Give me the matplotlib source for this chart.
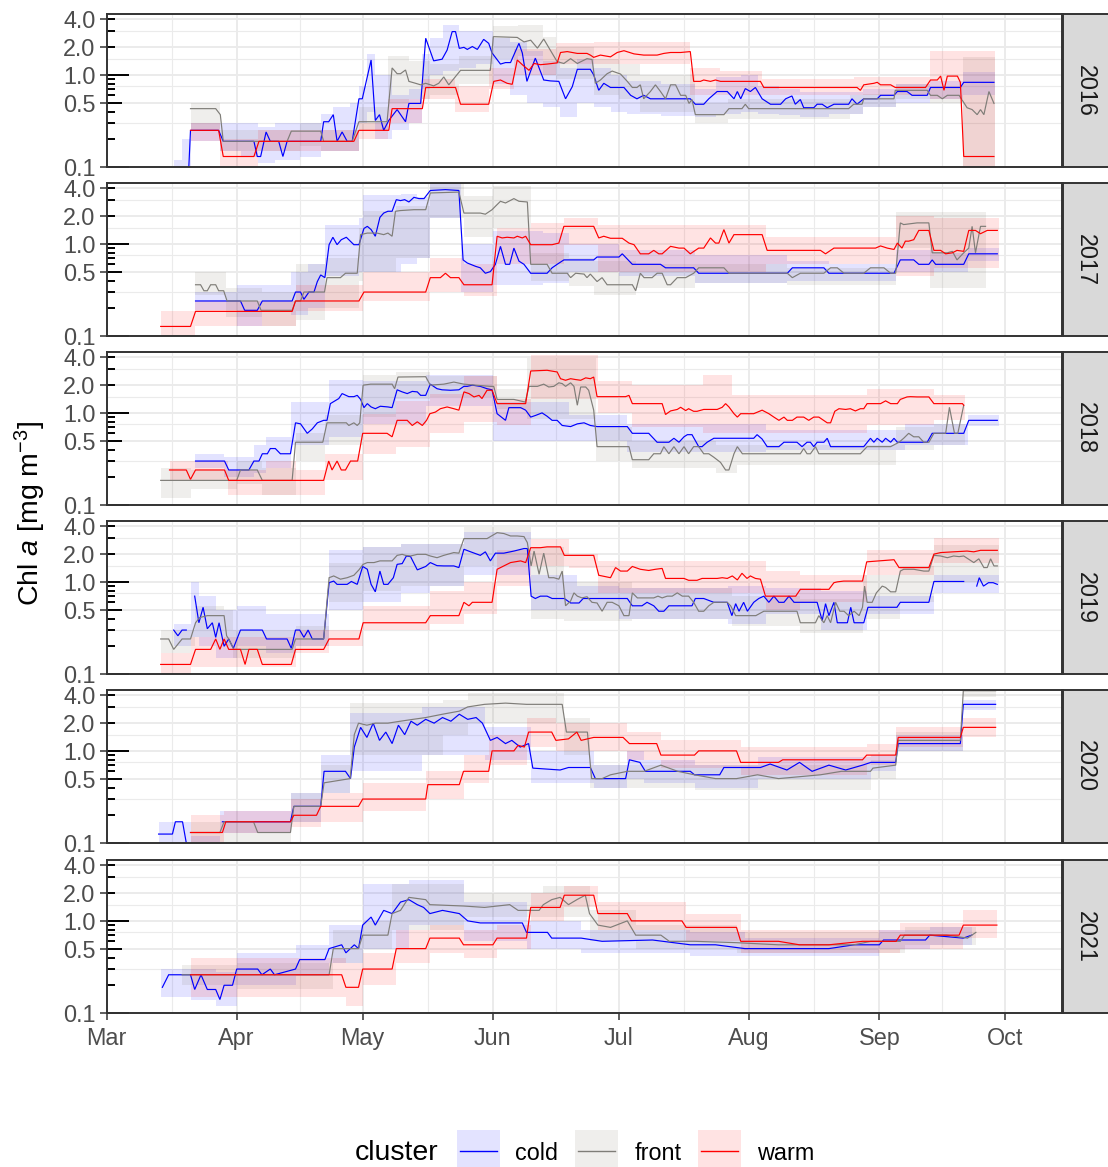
import matplotlib
matplotlib.use("Agg")
import matplotlib.pyplot as plt
from matplotlib.patches import Rectangle
from matplotlib.lines import Line2D

nan = float("nan")

# ---------------- categories / ticks ----------------
years = [2016, 2017, 2018, 2019, 2020, 2021]
clusters = ["cold", "front", "warm"]
month_labels = ["Mar", "Apr", "May", "Jun", "Jul", "Aug", "Sep", "Oct"]
month_days = [0, 31, 61, 92, 122, 153, 184, 214]          # days since 1 March
y_tick_values = [0.1, 0.5, 1.0, 2.0, 4.0]
y_tick_labels = ["0.1", "0.5", "1.0", "2.0", "4.0"]
y_minor_values = [0.3, 0.75, 1.5, 3.0]

# ---------------- data: (day since 1 Mar, Chl a) ----------------
cold_2016 = [(19.6,0.10),(20.0,0.25),(26.7,0.25),(27.8,0.19),(35.1,0.19),(35.9,0.13),(36.7,0.13),(38.0,0.24),(39.0,0.19),(41.0,0.19),(42.0,0.13),(43.0,0.19),(51.0,0.19),(51.7,0.31),(52.9,0.31),(54.0,0.37),(54.9,0.19),(56.1,0.24),(57.3,0.19),(58.5,0.19),(60.1,0.55),(60.9,0.55),(63.0,1.45),(64.0,0.32),(65.0,0.37),(66.0,0.25),(67.2,0.32),(69.2,0.42),(71.2,0.31),(72.0,0.49),(74.8,0.49),(76.0,2.5),(77.9,1.42),(79.9,1.48),(81.1,1.86),(82.3,2.95),(83.1,2.95),(84.0,1.94),(85.1,1.99),(85.9,1.89),(87.1,2.03),(88.3,1.89),(89.8,2.43),(91.0,2.2),(91.8,1.73),(93.8,1.31),(95.0,1.36),(96.2,1.36),(98.2,2.2),(99.0,1.73),(100.1,0.85),(102.1,1.52),(104.1,0.88),(105.7,0.86),(107.7,0.85),(109.3,0.55),(110.9,0.745),(112.1,1.15),(115.2,1.15),(116.0,1.0),(117.2,0.68),(118.4,0.81),(120.0,0.73),(123.2,0.73),(124.8,0.60),(126.3,0.55),(127.9,0.60),(129.5,0.55),(139.0,0.55),(140.2,0.48),(142.2,0.48),(143.4,0.55),(145.4,0.66),(147.8,0.66),(149.4,0.55),(150.2,0.66),(151.0,0.55),(152.1,0.71),(153.3,0.66),(154.5,0.73),(156.1,0.55),(158.1,0.48),(160.5,0.48),(161.7,0.55),(163.2,0.59),(164.0,0.48),(165.2,0.54),(166.0,0.44),(168.4,0.44),(169.2,0.48),(170.4,0.48),(171.6,0.44),(173.2,0.48),(176.7,0.48),(177.5,0.55),(178.7,0.48),(180.3,0.55),(183.5,0.55),(184.3,0.60),(187.5,0.60),(188.3,0.66),(190.6,0.66),(191.8,0.60),(195.4,0.60),(196.2,0.73),(203.3,0.73),(204.1,0.83),(211.3,0.83)]
front_2016 = [(20.0,0.43),(26.0,0.43),(27.1,0.37),(27.8,0.19),(43.0,0.19),(44.0,0.245),(51.0,0.245),(51.7,0.19),(58.5,0.19),(60.1,0.31),(66.8,0.31),(68.0,1.19),(69.2,1.03),(70.0,1.03),(71.2,1.13),(72.0,0.85),(73.6,0.81),(74.8,0.78),(76.0,0.81),(77.9,0.76),(79.1,0.81),(80.3,0.95),(81.5,0.78),(84.3,1.12),(91.4,1.12),(92.1,2.6),(97.8,2.55),(99.4,2.28),(101.0,2.38),(102.6,1.95),(104.1,2.45),(107.3,1.39),(108.9,1.33),(110.5,1.5),(112.1,1.33),(114.4,1.5),(115.6,1.47),(116.4,0.81),(117.6,0.88),(119.2,1.03),(120.4,1.1),(122.4,1.02),(124.0,0.85),(125.2,0.73),(126.3,0.73),(127.1,0.78),(127.9,0.55),(129.5,0.66),(130.7,0.78),(131.9,0.66),(133.1,0.55),(134.3,0.78),(135.5,0.78),(136.7,0.60),(137.9,0.60),(138.7,0.49),(139.4,0.54),(140.2,0.37),(147.0,0.37),(148.2,0.43),(151.3,0.43),(152.1,0.48),(152.9,0.43),(176.7,0.43),(177.9,0.48),(179.9,0.48),(180.3,0.55),(187.5,0.55),(187.8,0.68),(195.4,0.68),(196.2,0.60),(197.8,0.60),(199.0,0.55),(200.2,0.60),(203.0,0.60),(204.9,0.44),(206.1,0.42),(207.3,0.37),(208.1,0.42),(208.9,0.37),(210.1,0.66),(211.3,0.49)]
warm_2016 = [(20.0,0.25),(26.7,0.25),(27.8,0.13),(35.1,0.13),(36.3,0.19),(58.9,0.19),(60.1,0.25),(67.2,0.25),(68.0,0.43),(75.2,0.43),(76.0,0.73),(83.1,0.73),(84.3,0.48),(91.0,0.48),(92.2,0.85),(93.8,0.88),(95.4,0.81),(96.6,0.79),(97.8,1.45),(99.0,1.29),(100.6,1.12),(101.8,1.33),(103.3,1.29),(104.9,1.31),(107.3,1.35),(108.1,1.75),(109.7,1.79),(112.1,1.71),(114.4,1.71),(115.2,1.64),(116.0,1.55),(117.6,1.64),(120.0,1.57),(121.6,1.75),(123.2,1.83),(125.6,1.69),(127.9,1.64),(131.1,1.64),(132.7,1.71),(134.3,1.75),(136.7,1.75),(139.0,1.79),(139.8,0.85),(141.4,0.85),(142.2,0.88),(143.8,0.85),(145.0,0.88),(146.2,0.85),(155.7,0.85),(156.5,0.73),(178.7,0.73),(179.5,0.68),(180.3,0.78),(182.7,0.81),(183.5,0.83),(184.3,0.78),(186.7,0.78),(187.8,0.73),(195.0,0.73),(196.2,0.88),(197.8,0.88),(198.6,0.97),(199.4,0.68),(200.2,0.97),(202.6,0.97),(203.3,0.83),(204.1,0.13),(211.3,0.13)]

cold_2017 = [(21.2,0.24),(31.9,0.24),(32.9,0.19),(35.9,0.19),(37.1,0.24),(44.2,0.24),(45.0,0.30),(46.2,0.30),(47.0,0.25),(48.2,0.30),(49.4,0.30),(50.2,0.39),(51.0,0.46),(52.0,0.43),(53.0,0.98),(53.9,1.18),(54.9,0.98),(55.9,1.11),(57.1,1.18),(58.9,0.98),(60.1,0.98),(61.3,1.47),(62.1,1.55),(63.0,1.43),(64.0,1.21),(65.1,1.94),(66.0,2.16),(67.0,2.26),(68.0,2.26),(69.0,3.02),(70.0,2.95),(71.0,3.02),(72.0,2.85),(73.2,3.2),(74.4,3.1),(75.6,3.1),(77.1,3.8),(80.7,3.88),(83.9,3.8),(84.9,0.67),(85.9,0.62),(87.9,0.57),(89.0,0.55),(90.2,0.48),(91.4,0.50),(92.6,0.60),(93.8,0.94),(95.0,0.60),(96.0,0.60),(97.0,0.90),(98.2,0.65),(99.4,0.60),(101.0,0.48),(104.9,0.48),(106.1,0.55),(107.3,0.60),(108.9,0.67),(116.0,0.67),(116.8,0.72),(122.0,0.72),(122.8,0.78),(125.2,0.60),(131.9,0.60),(133.1,0.55),(139.8,0.55),(141.0,0.48),(162.1,0.48),(163.3,0.55),(170.8,0.55),(172.0,0.48),(187.5,0.48),(189.0,0.67),(192.2,0.67),(193.4,0.60),(195.8,0.60),(196.6,0.67),(197.4,0.60),(204.1,0.60),(205.3,0.78),(212.1,0.78)]
front_2017 = [(21.2,0.36),(22.4,0.36),(23.2,0.31),(24.0,0.31),(24.8,0.36),(26.0,0.36),(26.7,0.31),(27.9,0.31),(28.7,0.24),(35.9,0.24),(36.8,0.19),(44.2,0.19),(45.0,0.24),(46.2,0.24),(47.0,0.30),(51.9,0.30),(52.5,0.43),(55.7,0.43),(56.9,0.48),(59.7,0.48),(60.5,1.26),(62.1,1.31),(64.4,1.31),(66.0,1.26),(67.0,1.31),(68.0,1.21),(68.8,2.26),(70.0,2.3),(73.2,2.35),(76.0,2.35),(77.1,3.57),(83.9,3.65),(85.1,2.16),(89.0,2.16),(90.2,2.1),(91.8,2.35),(92.6,2.56),(93.8,2.9),(95.0,2.78),(97.0,3.1),(98.2,2.9),(100.2,2.85),(101.0,0.60),(104.9,0.60),(106.1,0.48),(109.7,0.48),(110.5,0.43),(111.7,0.48),(113.7,0.47),(114.4,0.43),(115.2,0.47),(116.8,0.39),(118.0,0.43),(119.2,0.36),(125.2,0.36),(126.0,0.31),(127.1,0.48),(128.0,0.43),(129.9,0.43),(131.1,0.48),(132.3,0.48),(133.5,0.36),(134.3,0.36),(135.9,0.43),(137.9,0.43),(139.8,0.48),(141.0,0.55),(147.0,0.55),(148.2,0.48),(162.1,0.48),(163.3,0.43),(165.2,0.48),(170.8,0.48),(172.4,0.55),(174.0,0.55),(175.6,0.48),(180.3,0.48),(181.9,0.55),(185.1,0.55),(186.7,0.48),(187.9,0.48),(189.0,1.69),(189.8,1.62),(193.0,1.69),(195.8,1.69),(196.6,0.80),(200.2,0.80),(201.4,0.83),(202.5,0.67),(204.1,0.80),(205.3,0.90),(206.1,1.55),(206.9,0.80),(208.1,1.55),(209.3,1.55)]
warm_2017 = [(12.9,0.127),(20.0,0.127),(21.2,0.185),(44.2,0.185),(45.0,0.24),(60.1,0.24),(61.3,0.30),(76.0,0.30),(77.1,0.43),(79.5,0.43),(80.7,0.48),(81.9,0.43),(83.9,0.43),(85.1,0.36),(91.8,0.36),(93.0,1.21),(94.2,1.16),(95.4,1.18),(97.0,1.16),(97.8,1.21),(99.0,1.16),(99.8,1.21),(101.0,0.98),(106.1,0.98),(107.7,1.02),(108.9,1.55),(116.0,1.55),(117.2,1.16),(118.4,1.21),(120.0,1.15),(122.8,1.15),(124.4,1.02),(125.6,0.98),(127.1,0.78),(129.1,0.78),(130.3,0.85),(131.5,0.78),(132.3,0.78),(134.3,0.94),(136.3,0.90),(137.5,0.90),(139.0,0.78),(141.0,0.90),(142.2,0.90),(143.8,1.16),(145.0,1.02),(145.8,1.02),(147.0,1.43),(148.2,1.02),(149.4,1.26),(151.0,1.26),(156.1,1.26),(157.3,0.85),(170.0,0.85),(171.2,0.78),(173.2,0.90),(183.1,0.90),(184.3,0.95),(185.9,0.90),(187.5,0.87),(188.3,1.02),(189.4,0.90),(190.2,1.07),(191.0,1.07),(192.2,1.11),(193.4,1.40),(195.8,1.40),(197.0,0.85),(198.6,0.85),(199.8,0.78),(201.4,0.80),(202.5,0.85),(204.1,0.83),(205.3,1.40),(206.9,1.40),(208.1,1.29),(209.7,1.40),(212.1,1.40)]

cold_2018 = [(21.2,0.30),(28.1,0.30),(29.1,0.24),(33.9,0.24),(35.1,0.30),(36.3,0.30),(37.1,0.36),(38.3,0.36),(39.0,0.41),(40.2,0.41),(41.4,0.36),(43.8,0.36),(45.0,0.78),(46.2,0.76),(47.8,0.60),(49.0,0.67),(50.2,0.78),(51.7,0.83),(52.5,0.83),(53.3,1.26),(55.3,1.43),(56.1,1.62),(57.7,1.5),(58.9,1.5),(59.7,1.55),(60.5,1.40),(61.3,1.14),(62.1,1.26),(63.0,1.16),(64.0,1.11),(65.2,1.18),(67.0,1.16),(68.0,1.14),(69.2,1.78),(70.4,1.69),(71.6,1.62),(72.8,1.71),(74.0,1.69),(74.8,1.55),(76.0,1.55),(77.1,2.05),(78.7,1.83),(79.9,1.78),(81.9,1.76),(83.9,1.78),(85.1,1.94),(85.9,1.94),(87.1,2.0),(89.0,1.94),(90.6,1.83),(91.8,1.78),(93.0,0.98),(95.0,0.83),(95.8,1.14),(98.6,1.14),(99.8,1.07),(101.0,0.90),(102.2,0.94),(103.7,1.0),(104.9,0.92),(106.1,0.83),(107.3,0.83),(108.5,0.73),(110.5,0.71),(112.1,0.76),(113.7,0.78),(115.2,0.73),(116.8,0.71),(124.0,0.71),(125.2,0.60),(129.1,0.60),(131.1,0.48),(133.9,0.48),(135.1,0.53),(136.3,0.48),(137.5,0.55),(138.3,0.58),(139.4,0.58),(140.2,0.50),(141.0,0.43),(141.8,0.43),(143.0,0.48),(144.6,0.53),(154.1,0.53),(154.9,0.58),(156.1,0.52),(157.3,0.43),(160.1,0.43),(161.3,0.48),(164.4,0.48),(165.6,0.43),(166.8,0.48),(167.6,0.48),(168.4,0.43),(169.2,0.48),(170.8,0.48),(171.6,0.53),(172.4,0.43),(180.3,0.43),(181.9,0.53),(182.7,0.48),(183.5,0.53),(184.7,0.48),(185.5,0.53),(186.7,0.48),(187.5,0.53),(188.3,0.48),(195.4,0.48),(196.6,0.60),(204.1,0.60),(205.3,0.83),(212.1,0.83)]
front_2018 = [(12.9,0.185),(20.0,0.185),(31.0,0.185),(31.9,0.24),(35.9,0.24),(37.1,0.185),(44.2,0.185),(45.0,0.48),(51.5,0.48),(52.5,0.78),(57.1,0.78),(57.7,0.73),(58.9,0.78),(59.7,0.73),(60.3,0.78),(61.1,2.0),(62.9,2.05),(68.0,2.05),(68.6,1.83),(69.4,2.45),(76.0,2.47),(77.1,2.0),(80.3,2.05),(82.7,2.16),(85.1,2.05),(88.3,1.99),(91.4,1.94),(92.2,1.94),(93.0,1.40),(97.0,1.40),(99.7,1.31),(100.6,1.94),(102.6,1.94),(104.1,2.05),(105.3,1.91),(106.5,1.94),(107.7,2.12),(108.5,2.08),(109.3,1.94),(110.5,2.12),(111.3,1.94),(112.1,1.21),(112.9,1.91),(114.1,1.91),(114.8,1.76),(116.0,1.07),(116.8,0.43),(124.4,0.43),(125.2,0.31),(129.1,0.31),(130.3,0.36),(131.9,0.36),(132.7,0.43),(133.9,0.36),(135.1,0.43),(136.3,0.36),(137.5,0.43),(138.6,0.36),(139.8,0.43),(141.0,0.43),(142.2,0.36),(143.4,0.36),(144.6,0.33),(146.2,0.29),(147.4,0.24),(148.2,0.24),(149.4,0.36),(150.2,0.43),(151.4,0.36),(165.2,0.36),(166.0,0.41),(166.8,0.36),(167.6,0.36),(168.8,0.43),(169.6,0.36),(179.5,0.36),(181.1,0.43),(186.7,0.43),(188.7,0.48),(189.8,0.53),(191.0,0.60),(192.2,0.55),(193.4,0.55),(194.6,0.48),(195.8,0.48),(197.0,0.60),(199.8,0.60),(200.7,1.15),(201.9,0.60),(202.7,0.60),(204.1,1.21)]
warm_2018 = [(15.0,0.24),(19.0,0.24),(20.0,0.19),(21.2,0.24),(28.1,0.24),(29.1,0.185),(51.7,0.185),(52.9,0.30),(53.7,0.24),(54.9,0.30),(55.9,0.24),(56.9,0.24),(58.1,0.30),(59.8,0.30),(61.0,0.60),(66.8,0.60),(68.0,0.55),(69.2,0.83),(71.6,0.83),(72.8,0.73),(74.0,0.80),(75.2,0.73),(76.2,0.83),(77.0,0.98),(78.3,1.02),(79.5,1.11),(81.1,1.16),(82.7,1.11),(83.9,1.07),(85.1,1.69),(86.3,1.62),(87.5,1.49),(88.7,1.55),(89.4,1.43),(90.6,1.76),(91.8,1.76),(93.0,1.26),(99.8,1.26),(101.0,2.85),(104.9,2.9),(107.3,2.78),(108.1,2.35),(109.3,2.26),(110.5,2.35),(111.7,2.3),(112.9,2.26),(114.1,2.4),(115.2,2.35),(116.0,2.45),(116.8,1.5),(123.6,1.5),(124.4,1.55),(125.2,1.26),(132.3,1.26),(133.1,0.96),(134.3,1.05),(135.9,1.09),(136.7,1.15),(137.9,1.06),(138.6,1.11),(139.8,1.04),(140.6,1.04),(142.2,1.09),(145.4,1.09),(146.6,1.15),(147.4,1.26),(148.2,1.16),(149.4,0.98),(150.2,0.90),(151.0,0.98),(154.1,0.98),(156.1,1.07),(157.7,0.98),(158.9,0.90),(160.1,0.83),(161.3,0.90),(162.1,0.83),(163.3,0.83),(164.4,0.90),(166.0,0.90),(167.2,0.83),(168.4,0.90),(169.6,0.90),(171.6,0.78),(172.4,0.78),(173.4,1.04),(174.4,1.11),(176.0,1.09),(177.1,1.11),(178.3,1.05),(179.5,1.11),(180.3,1.11),(181.1,1.26),(184.3,1.26),(185.5,1.35),(186.7,1.26),(188.3,1.26),(189.0,1.40),(190.6,1.49),(191.4,1.5),(193.0,1.49),(195.8,1.49),(197.0,1.26),(203.8,1.26),(204.1,1.21)]

cold_2019 = [(16.0,0.30),(17.0,0.26),(18.0,0.30),(19.0,0.30),(20.0,nan),(21.0,0.70),(22.0,0.36),(23.0,0.53),(24.0,0.31),(25.2,0.36),(26.0,0.25),(26.8,0.36),(28.0,0.20),(29.1,0.24),(30.2,0.19),(31.9,0.30),(37.1,0.30),(38.1,0.24),(43.0,0.24),(44.0,0.19),(45.0,0.30),(46.0,0.30),(47.0,0.25),(48.0,0.30),(49.0,0.24),(51.7,0.24),(53.0,0.98),(54.1,1.02),(54.9,0.94),(57.3,0.94),(58.3,1.01),(59.7,0.94),(61.0,1.47),(62.1,1.37),(63.0,0.94),(64.0,0.78),(65.1,1.31),(66.0,0.94),(67.0,0.94),(68.3,1.11),(69.2,1.55),(70.4,1.58),(71.4,1.91),(72.4,1.88),(74.0,1.35),(76.0,1.47),(77.1,1.62),(78.7,1.5),(80.3,1.49),(82.7,1.49),(83.9,1.43),(85.1,2.26),(86.7,2.12),(89.0,1.94),(90.2,2.12),(91.4,1.69),(92.6,2.05),(94.6,2.05),(97.0,2.16),(99.4,2.3),(100.2,2.3),(101.1,0.70),(102.1,0.66),(103.3,0.70),(104.9,0.70),(106.1,0.66),(109.0,0.66),(110.5,0.59),(112.5,0.59),(113.5,0.66),(124.0,0.66),(125.2,0.55),(127.5,0.55),(128.7,0.60),(130.3,0.55),(131.5,0.48),(132.7,0.48),(133.9,0.55),(139.4,0.55),(140.2,0.66),(142.2,0.66),(144.6,0.60),(147.8,0.60),(148.9,0.43),(149.8,0.58),(150.6,0.48),(151.7,0.60),(152.6,0.48),(154.1,0.60),(155.3,0.66),(156.5,0.70),(157.7,0.60),(158.9,0.70),(160.1,0.60),(161.3,0.60),(162.5,0.70),(163.7,0.60),(169.2,0.60),(170.4,0.38),(171.2,0.58),(172.0,0.43),(173.2,0.60),(174.0,0.36),(176.4,0.36),(177.2,0.53),(178.0,0.36),(180.3,0.36),(181.3,0.53),(188.2,0.53),(189.0,0.60),(195.8,0.60),(197.0,1.01),(204.1,1.01),(204.6,nan),(207.2,0.90),(207.8,1.11),(208.8,0.90),(210.0,0.98),(211.1,0.98),(212.1,0.94)]
front_2019 = [(12.9,0.24),(14.8,0.24),(16.0,0.185),(18.0,0.24),(20.0,0.24),(21.2,0.36),(22.2,0.41),(24.0,0.43),(28.0,0.43),(28.6,0.26),(29.1,0.24),(30.3,0.185),(44.2,0.185),(45.0,0.24),(51.7,0.24),(53.0,1.11),(54.1,1.16),(55.7,1.07),(57.3,1.11),(58.9,1.18),(60.1,1.35),(61.1,1.55),(62.1,1.62),(63.7,1.62),(65.1,1.69),(68.0,1.69),(69.2,1.94),(70.4,1.99),(71.2,1.94),(72.4,1.91),(74.0,1.99),(76.0,1.99),(77.1,1.91),(78.7,1.83),(80.3,1.94),(82.7,2.08),(83.9,2.05),(85.1,2.95),(90.6,2.95),(91.4,3.1),(93.0,3.42),(94.6,3.35),(96.2,3.15),(97.8,3.15),(99.4,3.1),(100.2,2.67),(101.1,1.49),(101.8,2.16),(103.0,1.21),(104.1,2.05),(105.3,1.11),(106.5,1.11),(107.7,1.07),(108.5,1.31),(109.3,0.55),(110.5,0.62),(111.3,0.76),(112.1,0.70),(113.2,0.67),(114.4,0.69),(115.6,0.60),(116.8,0.59),(118.0,0.48),(119.2,0.60),(120.4,0.60),(122.0,0.55),(123.2,0.43),(124.4,0.43),(125.2,0.76),(126.4,0.67),(130.3,0.67),(131.3,0.70),(132.3,0.67),(133.5,0.70),(134.7,0.70),(135.9,0.76),(137.1,0.70),(138.6,0.70),(139.8,0.60),(141.0,0.48),(142.2,0.48),(143.4,0.55),(144.6,0.60),(147.8,0.60),(148.6,0.55),(149.8,0.43),(154.6,0.43),(156.5,0.48),(164.4,0.48),(165.2,0.36),(168.8,0.36),(169.6,0.43),(170.8,0.36),(171.6,0.43),(172.4,0.36),(173.6,0.60),(174.6,0.48),(175.6,0.48),(176.7,0.43),(178.0,0.48),(179.2,0.43),(180.0,0.53),(180.5,0.90),(181.1,0.60),(182.3,0.60),(183.3,0.76),(184.7,0.90),(185.5,0.87),(186.7,0.78),(187.9,0.78),(189.0,1.31),(189.8,1.37),(192.2,1.37),(194.6,1.31),(195.8,1.31),(197.0,1.94),(198.6,1.91),(200.2,1.83),(201.7,1.91),(203.0,1.88),(204.1,1.91),(205.3,1.76),(206.5,1.62),(207.7,1.78),(208.9,1.43),(209.7,1.43),(210.5,1.78),(211.3,1.49),(212.1,1.49)]
warm_2019 = [(12.9,0.127),(20.0,0.127),(21.2,0.185),(24.8,0.185),(26.0,0.24),(27.0,0.185),(28.0,0.24),(29.1,0.185),(31.9,0.185),(33.0,0.127),(33.9,0.185),(35.9,0.185),(37.1,0.127),(44.0,0.127),(45.0,0.185),(51.7,0.185),(53.0,0.24),(60.1,0.24),(61.1,0.36),(76.0,0.36),(77.1,0.43),(83.9,0.43),(85.1,0.60),(86.3,0.55),(87.1,0.60),(91.8,0.60),(93.0,1.37),(94.6,1.49),(96.2,1.62),(98.6,1.69),(99.8,1.62),(101.0,2.35),(103.3,2.35),(104.9,2.40),(108.1,2.40),(109.0,1.94),(116.0,1.94),(117.2,1.18),(120.0,1.11),(121.2,1.43),(122.4,1.31),(124.0,1.31),(125.2,1.47),(127.1,1.37),(129.1,1.33),(130.7,1.37),(132.3,1.40),(133.1,1.09),(137.5,1.09),(138.6,1.04),(140.6,1.04),(141.8,1.09),(145.4,1.09),(146.6,1.11),(147.8,1.09),(149.0,1.16),(150.2,1.05),(151.3,1.24),(152.5,1.09),(153.3,1.16),(154.5,1.09),(155.7,1.07),(156.9,0.70),(164.1,0.70),(165.2,0.83),(172.0,0.83),(173.2,0.98),(174.0,1.0),(175.5,1.02),(180.0,1.02),(181.0,1.65),(187.5,1.74),(188.7,1.43),(195.8,1.43),(197.0,2.0),(198.6,2.08),(201.7,2.12),(204.9,2.16),(206.5,2.12),(208.1,2.20),(212.1,2.20)]

cold_2020 = [(12.4,0.125),(15.7,0.125),(16.4,0.17),(18.1,0.17),(19.0,0.10),(20.0,nan),(27.6,0.17),(43.8,0.17),(44.6,0.25),(51.0,0.25),(51.8,0.6),(56.9,0.6),(58.1,0.5),(59.0,1.1),(60.5,1.8),(62.0,1.4),(63.5,2.0),(65.0,1.3),(66.5,1.6),(68.0,1.2),(69.5,1.9),(71.0,1.5),(72.5,2.1),(74.0,1.9),(76.0,2.2),(78.0,2.0),(80.0,2.3),(82.0,2.1),(84.0,2.5),(86.0,2.2),(88.0,2.3),(89.5,2.0),(91.4,1.3),(93.0,1.4),(95.0,1.2),(96.5,1.3),(98.5,1.1),(100.5,1.2),(101.5,0.65),(108.0,0.62),(110.0,0.66),(115.2,0.66),(116.4,0.5),(123.6,0.5),(124.5,0.8),(127.0,0.75),(128.3,0.6),(139.0,0.6),(140.0,0.55),(146.0,0.55),(147.0,0.66),(155.7,0.66),(158.0,0.72),(162.0,0.62),(165.0,0.75),(168.0,0.6),(172.0,0.7),(176.0,0.62),(180.0,0.7),(182.0,0.75),(187.9,0.75),(188.5,1.2),(203.3,1.2),(204.0,3.2),(211.7,3.2)]
front_2020 = [(20.0,0.13),(27.0,0.13),(28.0,0.17),(35.0,0.17),(36.0,0.13),(43.8,0.13),(44.6,0.25),(51.0,0.25),(51.8,0.45),(58.0,0.5),(59.0,1.5),(60.0,2.0),(62.0,1.9),(64.0,2.0),(67.0,2.0),(70.0,2.1),(73.0,2.2),(76.0,2.3),(80.0,2.5),(84.0,2.7),(86.0,3.0),(90.0,3.2),(95.0,3.3),(100.0,3.2),(108.5,3.2),(109.5,1.6),(114.5,1.6),(115.5,0.5),(118.0,0.5),(120.0,0.55),(124.0,0.6),(128.0,0.6),(132.0,0.7),(136.0,0.6),(140.0,0.55),(145.0,0.5),(150.0,0.5),(155.0,0.55),(160.0,0.5),(170.0,0.55),(175.0,0.6),(181.9,0.6),(182.5,0.65),(187.9,0.7),(188.5,1.3),(203.3,1.3),(204.0,4.5),(211.7,4.5)]
warm_2020 = [(20.0,0.13),(27.6,0.13),(28.4,0.17),(43.8,0.17),(44.6,0.2),(50.0,0.2),(51.0,0.25),(60.0,0.25),(61.0,0.3),(76.0,0.3),(76.5,0.43),(84.0,0.43),(85.0,0.6),(91.0,0.6),(91.8,1.0),(97.0,1.0),(98.0,1.15),(99.5,1.1),(100.5,1.6),(106.0,1.6),(107.0,1.3),(110.0,1.35),(112.0,1.6),(113.0,1.3),(116.0,1.4),(123.0,1.4),(124.5,1.2),(131.0,1.2),(132.0,0.9),(140.0,0.9),(141.0,1.0),(150.0,1.0),(151.0,0.75),(160.0,0.75),(161.0,0.8),(180.0,0.8),(181.0,0.9),(187.9,0.9),(188.5,1.4),(203.3,1.4),(204.0,1.8),(211.7,1.8)]

cold_2021 = [(13.3,0.19),(14.8,0.26),(20.0,0.26),(21.0,0.18),(22.5,0.26),(24.0,0.18),(26.0,0.18),(27.0,0.14),(28.0,0.2),(30.0,0.2),(31.0,0.3),(36.0,0.3),(37.0,0.26),(39.0,0.3),(40.0,0.26),(45.0,0.3),(46.0,0.38),(52.0,0.38),(53.0,0.5),(56.0,0.55),(57.0,0.45),(59.0,0.55),(60.0,0.5),(61.0,0.9),(63.0,1.1),(64.0,0.9),(66.0,1.3),(68.0,1.2),(70.0,1.6),(72.0,1.7),(74.0,1.5),(75.5,1.4),(77.0,1.2),(80.0,1.3),(84.0,1.2),(86.0,1.0),(89.0,0.95),(99.0,0.95),(100.0,0.75),(105.0,0.75),(106.0,0.65),(113.0,0.65),(118.0,0.6),(130.0,0.62),(139.0,0.55),(145.0,0.55),(152.0,0.5),(172.0,0.5),(178.0,0.55),(184.0,0.55),(185.0,0.62),(195.0,0.62),(196.0,0.7),(204.0,0.65),(206.0,0.7)]
front_2021 = [(18.0,0.26),(53.0,0.26),(54.0,0.5),(60.0,0.5),(61.0,0.7),(67.0,0.7),(68.0,1.2),(70.0,1.3),(72.0,1.8),(76.0,1.7),(77.0,1.5),(85.0,1.45),(90.0,1.4),(96.0,1.5),(98.0,1.3),(103.0,1.3),(104.0,1.5),(106.0,1.7),(108.0,1.8),(110.0,1.5),(112.0,1.7),(114.0,1.9),(115.0,1.2),(117.0,0.9),(120.0,0.85),(124.0,1.0),(126.0,0.7),(132.0,0.7),(134.0,0.6),(140.0,0.6),(150.0,0.58),(160.0,0.55),(178.0,0.55),(182.0,0.6),(189.0,0.6),(190.0,0.7),(200.0,0.7),(205.0,0.65),(207.0,0.75)]
warm_2021 = [(20.0,0.26),(56.0,0.26),(57.0,0.19),(60.0,0.19),(61.0,0.3),(68.0,0.3),(69.0,0.5),(76.0,0.5),(77.0,0.65),(84.0,0.65),(85.0,0.55),(92.0,0.55),(93.0,0.65),(100.0,0.65),(101.0,1.4),(108.0,1.4),(109.0,1.9),(116.0,1.9),(117.0,1.2),(124.0,1.2),(125.0,1.0),(137.0,1.0),(138.0,0.85),(150.0,0.85),(151.0,0.6),(160.0,0.6),(165.0,0.55),(172.0,0.55),(180.0,0.6),(188.0,0.6),(189.0,0.7),(203.0,0.7),(204.0,0.9),(212.0,0.9)]

# ---------------- ribbons: (day since 1 Mar, lower, upper) ----------------
cold_2016_band = [(16,0.1,0.12),(18,0.1,0.2),(20,0.19,0.3),(27,0.15,0.3),(32,0.13,0.3),(36,0.11,0.27),(40,0.12,0.3),(46,0.13,0.3),(51,0.15,0.38),(54,0.15,0.45),(58,0.15,0.5),(60,0.3,0.75),(62,0.4,1.7),(64,0.2,1.0),(68,0.25,0.6),(72,0.3,0.7),(75,0.7,1.7),(77,1.0,2.5),(80,1.1,3.5),(84,1.2,3.0),(88,1.3,3.0),(92,0.8,2.5),(96,0.6,2.3),(100,0.5,1.8),(104,0.45,1.4),(108,0.35,1.2),(112,0.5,1.5),(116,0.45,1.2),(120,0.4,1.0),(124,0.38,0.85),(132,0.36,0.8),(140,0.35,0.7),(145,0.38,0.95),(151,0.4,1.0),(155,0.38,0.75),(160,0.37,0.7),(165,0.35,0.65),(172,0.38,0.65),(180,0.45,0.7),(188,0.5,0.8),(196,0.55,0.85),(204,0.6,1.08),(211.5,0.6,1.08)]
front_2016_band = [(20,0.25,0.5),(27,0.15,0.25),(46,0.17,0.3),(51,0.15,0.25),(60,0.25,0.45),(67,0.5,1.6),(72,0.55,1.4),(77,0.6,1.3),(84,0.8,1.6),(92,1.5,3.4),(98,1.6,3.5),(104,1.0,2.6),(107,0.9,2.0),(116,0.6,1.5),(122,0.55,1.3),(127,0.4,1.0),(134,0.4,1.0),(140,0.3,0.5),(148,0.33,0.55),(165,0.33,0.55),(177,0.38,0.6),(180,0.45,0.62),(188,0.55,0.8),(196,0.5,0.75),(204,0.1,1.55),(211.5,0.1,1.55)]
warm_2016_band = [(20,0.19,0.3),(27,0.1,0.2),(36,0.15,0.25),(60,0.2,0.3),(67,0.3,0.55),(75,0.55,0.9),(83,0.4,0.75),(91,0.7,1.2),(97,1.0,1.9),(107,1.3,2.2),(116,1.3,2.3),(139,0.6,1.2),(146,0.6,1.1),(156,0.6,0.9),(178,0.6,0.95),(187,0.6,0.95),(196,0.55,1.8),(204,0.1,1.8),(211.5,0.1,1.8)]

cold_2017_band = [(21,0.19,0.3),(31,0.13,0.36),(37,0.19,0.36),(44,0.17,0.5),(48,0.2,0.6),(52,0.45,1.6),(60,0.5,1.9),(61,0.5,3.4),(70,0.6,3.5),(74,0.7,3.2),(77,1.9,4.6),(84.5,0.3,1.0),(92,0.36,1.37),(104,0.38,1.3),(110,0.5,1.0),(122,0.45,0.85),(140,0.38,0.75),(162,0.4,0.65),(172,0.4,0.6),(188,0.5,0.85),(197,0.5,0.8),(205,0.65,0.9),(212.5,0.65,0.9)]
front_2017_band = [(21,0.28,0.5),(28.5,0.16,0.33),(37,0.13,0.3),(45,0.15,0.6),(52,0.2,0.7),(60,0.4,1.5),(61,0.5,2.3),(69,0.7,2.6),(77,1.9,4.6),(85,1.2,3.3),(92,1.5,4.2),(101,0.4,0.8),(110,0.35,0.7),(116,0.28,0.65),(126,0.33,0.6),(140,0.38,0.6),(162,0.36,0.55),(188,0.9,2.2),(196,0.33,2.2),(209.5,0.33,2.2)]
warm_2017_band = [(12.9,0.1,0.185),(21,0.13,0.24),(45,0.185,0.36),(61,0.24,0.5),(77,0.3,0.7),(85,0.27,0.6),(93,0.6,1.5),(101,0.6,1.7),(109,0.98,1.9),(117,0.5,1.6),(157,0.6,1.2),(188,0.45,2.0),(197,0.55,1.9),(212.5,0.55,1.9)]

cold_2018_band = [(21,0.25,0.36),(28,0.2,0.33),(35,0.22,0.45),(38,0.25,0.55),(44,0.45,1.3),(53,0.55,2.3),(61,0.75,2.2),(76,1.2,2.6),(92,0.5,1.3),(110,0.5,0.95),(124,0.38,0.75),(157,0.4,0.65),(190,0.45,0.75),(205,0.72,0.95),(212.5,0.72,0.95)]
front_2018_band = [(12.9,0.12,0.25),(20,0.15,0.24),(31,0.17,0.3),(37,0.13,0.25),(45,0.3,0.6),(52,0.45,0.95),(61,0.9,2.6),(69,1.4,2.8),(77,1.5,2.5),(93,1.1,1.8),(100,0.85,3.9),(116.5,0.3,0.7),(125,0.25,0.5),(145,0.22,0.45),(150,0.27,0.45),(188,0.4,0.7),(197,0.45,0.75),(204.5,0.45,0.75)]
warm_2018_band = [(15,0.185,0.3),(21,0.185,0.3),(29,0.13,0.24),(38,0.13,0.3),(45,0.13,0.24),(52,0.185,0.36),(61,0.36,0.98),(69,0.43,1.35),(77,0.6,1.6),(85,0.8,2.5),(93,0.73,1.4),(101,1.4,4.2),(117,1.0,2.2),(125,0.7,2.0),(142,0.6,2.6),(149,0.6,1.55),(173,0.6,1.55),(181,0.73,1.8),(197,0.83,1.55),(204.5,0.83,1.55)]

cold_2019_band = [(16,0.2,0.35),(20,0.25,1.0),(22,0.2,0.7),(26,0.15,0.5),(31,0.2,0.55),(38,0.17,0.45),(45,0.2,0.45),(53,0.5,2.2),(61,0.6,2.4),(70,0.75,2.6),(77,0.9,2.6),(85,1.2,3.5),(101,0.5,1.2),(112,0.5,0.9),(122,0.4,0.85),(148,0.35,0.9),(157,0.45,0.85),(170,0.3,0.8),(181,0.45,0.7),(197,0.75,1.2),(212.5,0.75,1.2)]
front_2019_band = [(12.9,0.17,0.3),(20,0.2,0.3),(21,0.25,0.55),(28,0.2,0.5),(30,0.15,0.3),(45,0.2,0.33),(53,0.6,1.6),(61,0.8,2.4),(70,0.9,2.6),(85,1.5,3.9),(101,0.4,2.4),(109,0.38,1.0),(125,0.4,0.85),(149,0.33,0.7),(165,0.28,0.65),(180,0.4,1.2),(189,0.6,1.5),(197,1.0,2.5),(212.5,1.0,2.5)]
warm_2019_band = [(12.9,0.1,0.17),(20,0.12,0.25),(45,0.17,0.3),(53,0.2,0.3),(61,0.3,0.55),(77,0.35,0.8),(85,0.45,1.0),(93,0.9,2.2),(101,1.5,2.9),(110,1.4,2.0),(117,0.75,1.7),(157,0.5,1.3),(165,0.6,1.2),(181,1.2,2.2),(197,1.6,3.0),(212.5,1.6,3.0)]

cold_2020_band = [(12.4,0.1,0.17),(20,0.1,0.12),(27,0.13,0.22),(44,0.17,0.35),(51,0.35,0.9),(58,0.6,2.6),(75,0.9,3.0),(90,0.8,1.8),(101,0.45,1.0),(116,0.4,0.7),(124,0.5,1.0),(128,0.45,0.8),(140,0.4,0.7),(155,0.5,0.85),(182,0.6,0.9),(188,1.0,1.5),(204,2.8,3.6),(211.7,2.8,3.6)]
front_2020_band = [(20,0.1,0.17),(44,0.17,0.35),(51,0.35,0.7),(58,0.9,3.3),(80,1.5,3.6),(86,2.0,4.2),(109,0.9,2.3),(115,0.4,0.7),(140,0.38,0.7),(182,0.5,0.8),(188,1.0,1.6),(204,3.8,4.6),(211.7,3.8,4.6)]
warm_2020_band = [(20,0.1,0.2),(28,0.13,0.22),(44,0.15,0.3),(51,0.17,0.35),(61,0.22,0.45),(76,0.3,0.6),(85,0.45,0.9),(91,0.7,1.5),(100,1.1,2.3),(107,1.0,2.0),(124,0.8,1.6),(132,0.65,1.3),(151,0.55,1.1),(181,0.7,1.2),(188,1.1,1.8),(204,1.4,2.3),(211.7,1.4,2.3)]

cold_2021_band = [(13,0.15,0.3),(20,0.14,0.3),(26,0.12,0.28),(31,0.2,0.45),(45,0.25,0.55),(53,0.35,0.9),(61,0.5,2.5),(72,0.9,2.8),(85,0.6,1.6),(100,0.5,1.0),(113,0.45,0.8),(139,0.42,0.75),(152,0.42,0.65),(184,0.5,0.8),(196,0.55,0.85),(206,0.55,0.85)]
front_2021_band = [(18,0.2,0.33),(31,0.18,0.35),(54,0.35,0.8),(61,0.5,1.0),(68,0.8,2.5),(85,1.1,2.0),(104,1.1,2.4),(115,0.6,1.3),(126,0.5,0.9),(150,0.45,0.75),(190,0.55,0.85),(207,0.55,0.85)]
warm_2021_band = [(20,0.15,0.4),(57,0.12,0.35),(61,0.2,0.45),(69,0.35,0.8),(77,0.45,0.9),(85,0.4,0.8),(93,0.5,0.9),(101,1.0,2.0),(109,1.4,2.4),(117,0.8,1.6),(138,0.6,1.2),(151,0.45,0.8),(189,0.5,0.95),(204,0.65,1.3),(212,0.65,1.3)]

lines_by_year = {
    2016: (cold_2016, front_2016, warm_2016),
    2017: (cold_2017, front_2017, warm_2017),
    2018: (cold_2018, front_2018, warm_2018),
    2019: (cold_2019, front_2019, warm_2019),
    2020: (cold_2020, front_2020, warm_2020),
    2021: (cold_2021, front_2021, warm_2021),
}
bands_by_year = {
    2016: (cold_2016_band, front_2016_band, warm_2016_band),
    2017: (cold_2017_band, front_2017_band, warm_2017_band),
    2018: (cold_2018_band, front_2018_band, warm_2018_band),
    2019: (cold_2019_band, front_2019_band, warm_2019_band),
    2020: (cold_2020_band, front_2020_band, warm_2020_band),
    2021: (cold_2021_band, front_2021_band, warm_2021_band),
}

# ---------------- style ----------------
line_colors = {"cold": "#0000FF", "front": "#7F7D78", "warm": "#FF0000"}
fill_colors = {"cold": "#0000FF", "front": "#6E6658", "warm": "#FF0000"}
FILL_ALPHA = 0.11
GRID = "#EBEBEB"
DARK = "#333333"
TICKTXT = "#4D4D4D"

plt.rcParams["font.family"] = ["Liberation Sans", "DejaVu Sans"]
plt.rcParams["mathtext.fontset"] = "custom"
plt.rcParams["mathtext.rm"] = "Liberation Sans"
plt.rcParams["mathtext.it"] = "Liberation Sans:italic"

W, H = 1108, 1167
fig = plt.figure(figsize=(W / 100, H / 100), dpi=100)

PANEL_L, PANEL_R = 106.5, 1062
PANEL_H = 153
panel_tops = [14, 183, 352, 521, 690, 860]
X_MIN, X_MAX = 0.0, 227.5
Y_MIN, Y_MAX = 0.1, 4.58
minor_x = [(a + b) / 2 for a, b in zip(month_days[:-1], month_days[1:])] + [229.5]

logtick_short = [0.2, 0.3, 0.4, 0.6, 0.7, 0.8, 0.9, 2, 3, 4]
logtick_mid = [0.5]
logtick_long = [0.1, 1.0]
pw = PANEL_R - PANEL_L

for i, yr in enumerate(years):
    top = panel_tops[i]
    ax = fig.add_axes([PANEL_L / W, 1 - (top + PANEL_H) / H, pw / W, PANEL_H / H])
    ax.set_yscale("log")
    ax.set_xlim(X_MIN, X_MAX)
    ax.set_ylim(Y_MIN, Y_MAX)
    ax.set_facecolor("white")
    # grid
    for v in y_minor_values:
        ax.axhline(v, color=GRID, lw=0.8, zorder=0)
    for v in y_tick_values:
        ax.axhline(v, color=GRID, lw=1.4, zorder=0)
    for d in minor_x:
        ax.axvline(d, color=GRID, lw=0.8, zorder=0)
    for d in month_days:
        ax.axvline(d, color=GRID, lw=1.4, zorder=0)
    # ribbons
    for cl, band in zip(clusters, bands_by_year[yr]):
        dd = [b[0] for b in band]
        lo = [b[1] for b in band]
        hi = [b[2] for b in band]
        ax.fill_between(dd, lo, hi, step="post", color=fill_colors[cl],
                        alpha=FILL_ALPHA, lw=0, zorder=1)
    # lines
    for cl, pts in zip(clusters, lines_by_year[yr]):
        dd = [p[0] for p in pts]
        vv = [p[1] for p in pts]
        ax.plot(dd, vv, color=line_colors[cl], lw=0.85, zorder=2,
                solid_joinstyle="miter")
    # log ticks inside the panel
    tr = ax.get_yaxis_transform()
    for group, length in ((logtick_short, 8), (logtick_mid, 15), (logtick_long, 22)):
        for v in group:
            ax.plot([0, length / pw], [v, v], color="black", lw=1.4,
                    transform=tr, zorder=4, clip_on=False, solid_capstyle="butt")
    # axes
    ax.set_yticks(y_tick_values)
    ax.set_yticklabels(y_tick_labels)
    ax.yaxis.set_minor_locator(matplotlib.ticker.NullLocator())
    ax.tick_params(axis="y", direction="out", length=5, width=1.1, color=DARK,
                   labelcolor=TICKTXT, labelsize=16.8, pad=3)
    ax.set_xticks(month_days)
    if i == len(years) - 1:
        ax.set_xticklabels(month_labels)
        ax.tick_params(axis="x", direction="out", length=5, width=1.1, color=DARK,
                       labelcolor=TICKTXT, labelsize=16.8, pad=5)
    else:
        ax.tick_params(axis="x", length=0, labelbottom=False)
    for s in ax.spines.values():
        s.set_color(DARK)
        s.set_linewidth(1.4)
        s.set_zorder(5)
    # facet strip
    sax = fig.add_axes([(PANEL_R + 0.5) / W, 1 - (top + PANEL_H) / H,
                        (W - PANEL_R + 2) / W, PANEL_H / H])
    sax.set_facecolor("#D9D9D9")
    sax.set_xticks([])
    sax.set_yticks([])
    for s in sax.spines.values():
        s.set_color(DARK)
        s.set_linewidth(1.4)
    sax.text(0.47, 0.5, str(yr), rotation=-90, ha="center", va="center",
             fontsize=16.8, color="#1A1A1A", transform=sax.transAxes)

# y axis title
fig.text(30 / W, 1 - 513 / H, r"Chl $\mathit{a}$ [mg m$^{-3}$]", rotation=90,
         ha="center", va="center", fontsize=20.5, color="black")

# legend (drawn in pixel coordinates)
lax = fig.add_axes([0, 0, 1, 1], zorder=10)
lax.set_xlim(0, W)
lax.set_ylim(H, 0)
lax.axis("off")
lax.text(355, 1153, "cluster", ha="left", va="center", fontsize=20.5, color="black")
key_x = [457, 575, 698]
lab_x = [515.5, 634.5, 757.5]
for cl, kx, lx in zip(clusters, key_x, lab_x):
    lax.add_patch(Rectangle((kx, 1130), 43, 38, facecolor=fill_colors[cl],
                            alpha=FILL_ALPHA, lw=0))
    lax.add_line(Line2D([kx + 3, kx + 40], [1151, 1151], color=line_colors[cl], lw=1.0))
    lax.text(lx, 1153, cl, ha="left", va="center", fontsize=16.8, color="black")

fig.savefig("out.png", dpi=100)
